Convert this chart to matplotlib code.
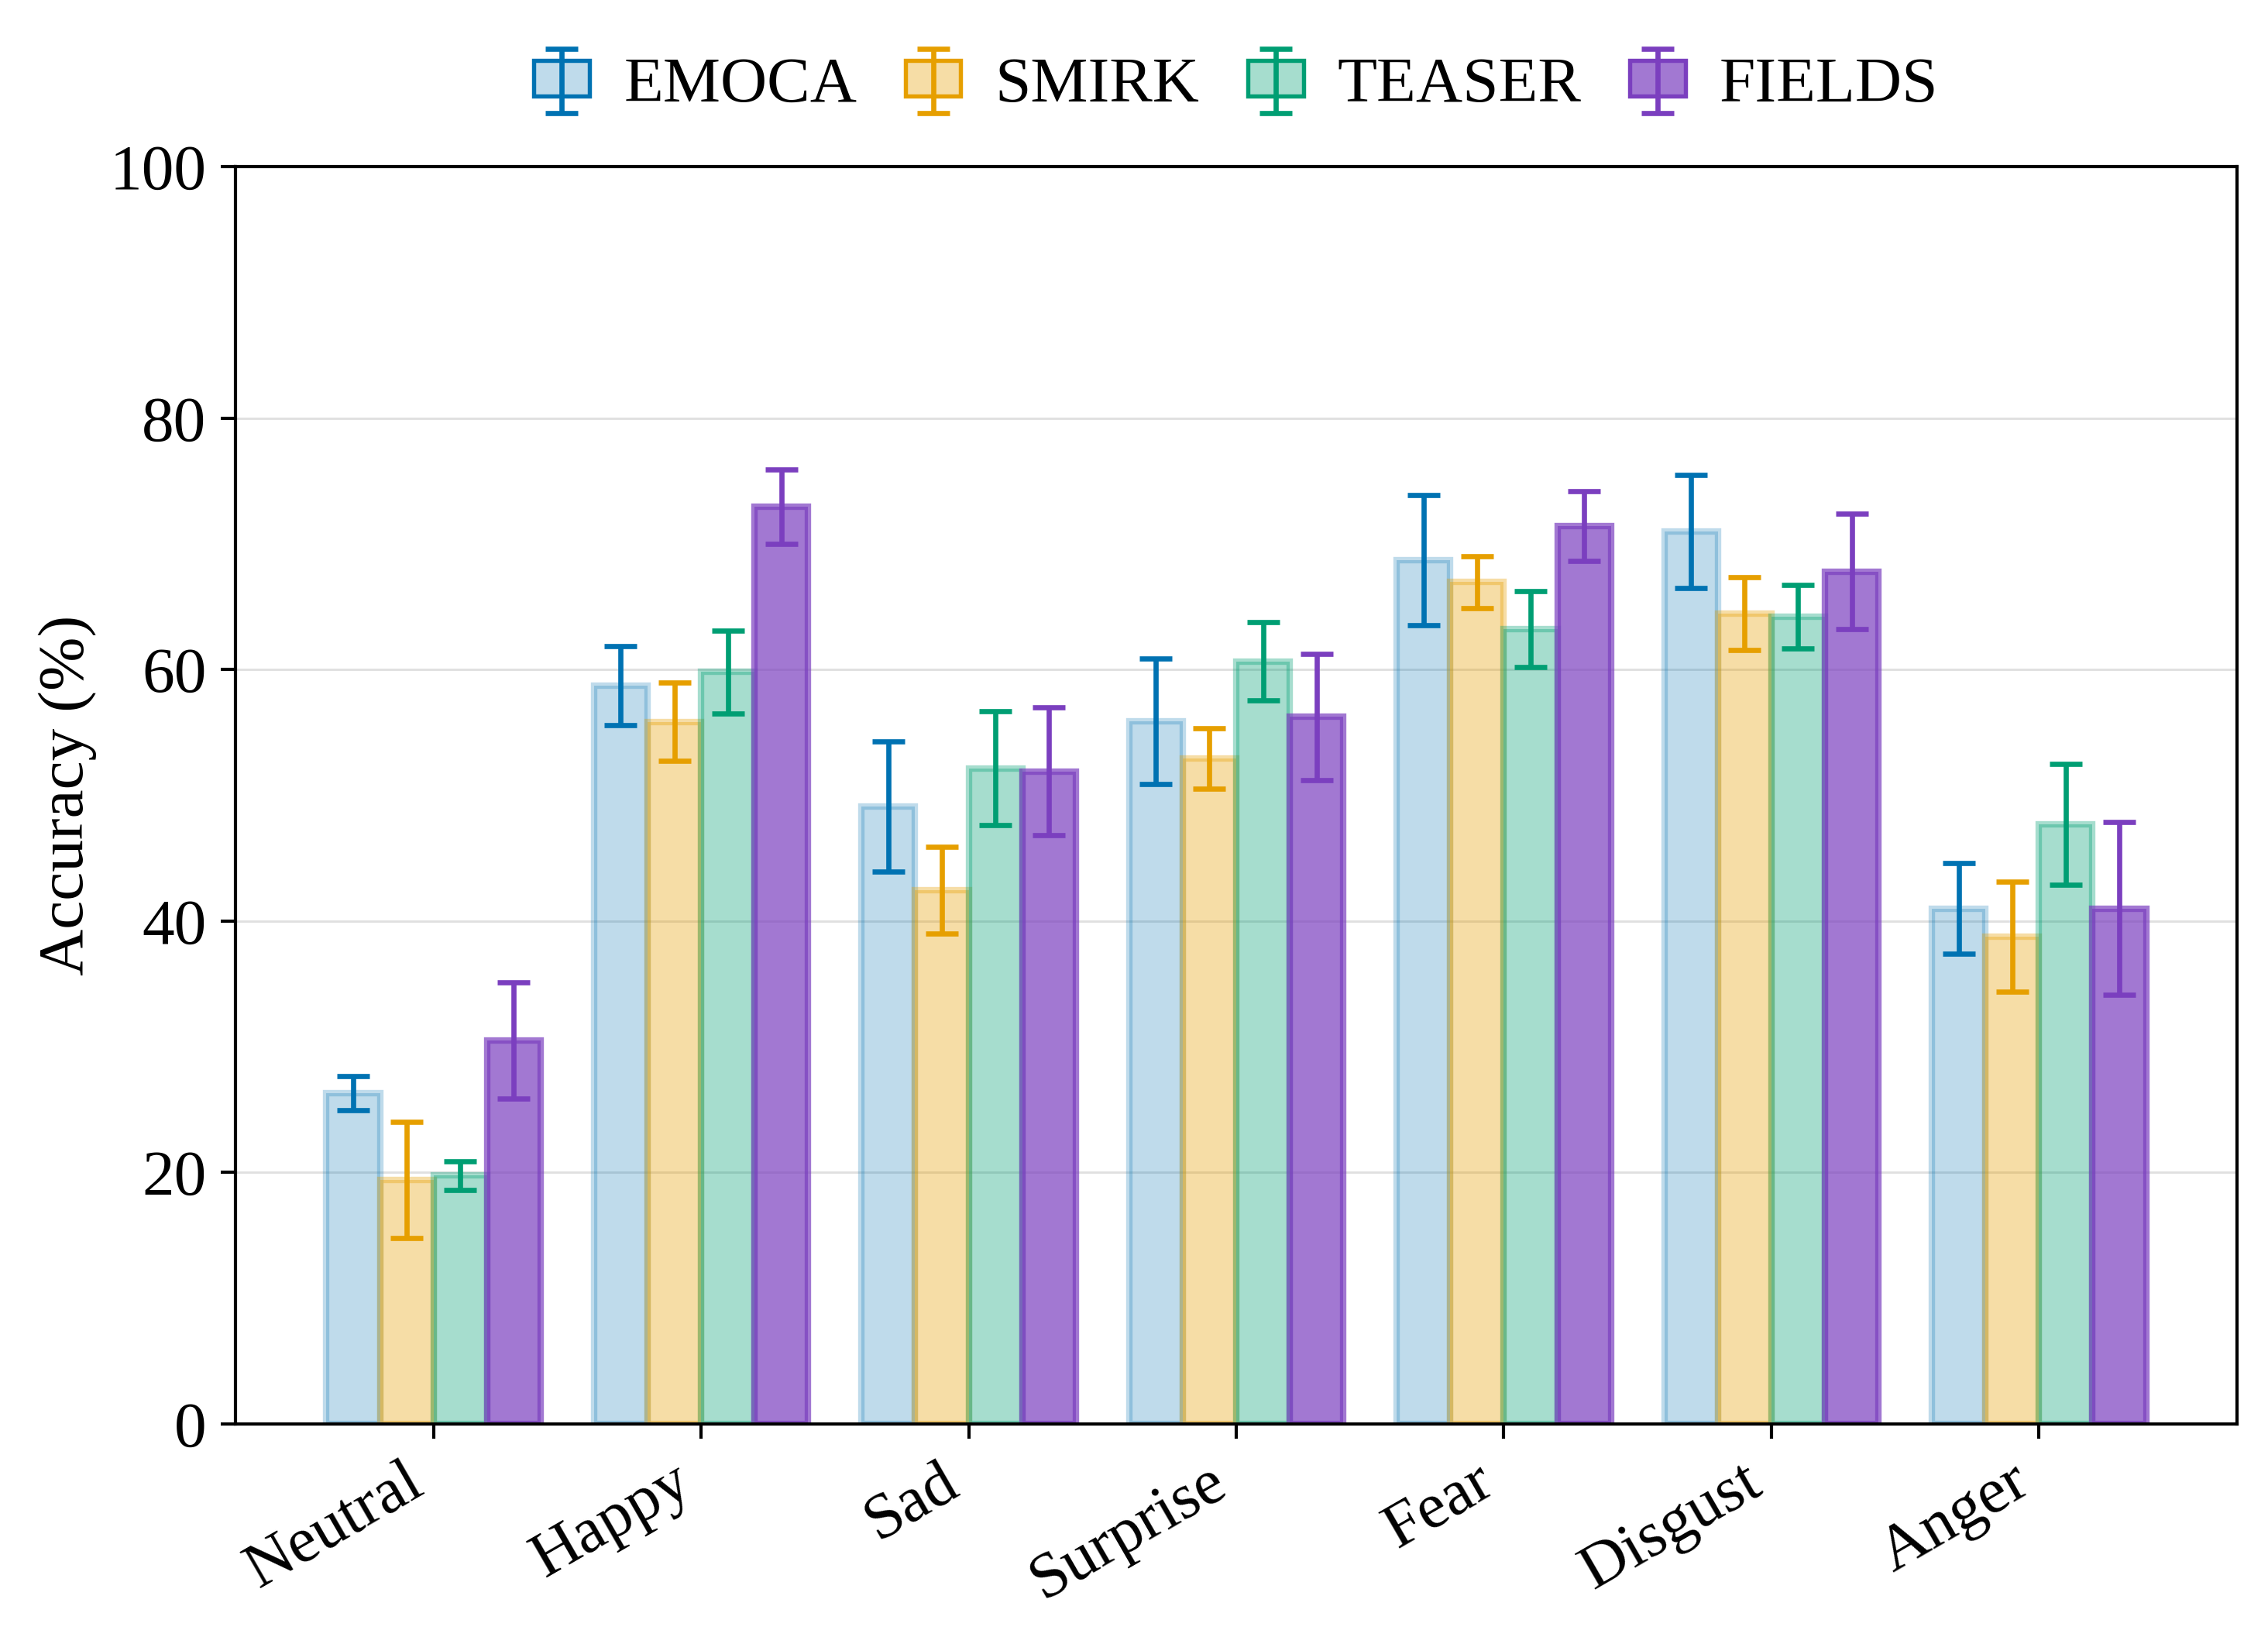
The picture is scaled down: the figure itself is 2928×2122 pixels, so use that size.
import numpy as np
import matplotlib
matplotlib.use("Agg")
import matplotlib.pyplot as plt
from matplotlib.patches import Rectangle
from matplotlib.legend_handler import HandlerTuple
from matplotlib.colors import to_rgba

plt.rcParams['font.family'] = ['Liberation Serif', 'DejaVu Serif']
plt.rcParams['mathtext.fontset'] = 'stix'

categories = ['Neutral', 'Happy', 'Sad', 'Surprise', 'Fear', 'Disgust', 'Anger']
methods = ['EMOCA', 'SMIRK', 'TEASER', 'FIELDS']

emoca = [26.3, 58.7, 49.1, 55.9, 68.7, 71.0, 41.0]
emoca_err = [1.35, 3.15, 5.17, 5.0, 5.18, 4.5, 3.6]
smirk = [19.4, 55.85, 42.45, 52.9, 66.95, 64.45, 38.75]
smirk_err = [4.6, 3.1, 3.45, 2.4, 2.07, 2.9, 4.4]
teaser = [19.75, 59.8, 52.15, 60.65, 63.2, 64.2, 47.7]
teaser_err = [1.15, 3.3, 4.53, 3.1, 3.02, 2.5, 4.8]
fields = [30.5, 72.95, 51.9, 56.23, 71.4, 67.8, 41.0]
fields_err = [4.6, 2.95, 5.1, 5.0, 2.77, 4.6, 6.87]

values = [emoca, smirk, teaser, fields]
errors = [emoca_err, smirk_err, teaser_err, fields_err]
colors = ['#0072B2', '#E69F00', '#009E73', '#7B3FBF']
alphas = [0.25, 0.35, 0.35, 0.7]

fig = plt.figure(figsize=(2928 / 300, 2122 / 300), dpi=300)
ax = fig.add_axes([304 / 2928, 1 - 1838 / 2122, (2888 - 304) / 2928, (1838 - 215) / 2122])

x = np.arange(len(categories))
width = 0.2
handles = []
for i, (name, vals, errs, col, a) in enumerate(zip(methods, values, errors, colors, alphas)):
    bars = ax.bar(x + (i - 1.5) * width, vals, width, yerr=errs, color=col,
                  edgecolor=col, linewidth=2, alpha=a,
                  error_kw=dict(ecolor=col, elinewidth=1.6, capsize=5, capthick=1.6, alpha=1))
    patch = Rectangle((0, 0), 1, 1, facecolor=to_rgba(col, a), edgecolor=col, linewidth=1.3)
    handles.append((patch, bars.errorbar))

ax.set_ylim(0, 100)
ax.set_yticks([0, 20, 40, 60, 80, 100])
ax.set_xticks(x)
ax.set_xticklabels(categories, rotation=30, ha='right')
ax.tick_params(axis='both', labelsize=20, length=4.5, width=1, pad=4.5)
ax.set_ylabel('Accuracy (%)', fontsize=20)
ax.yaxis.grid(True, color='#e0e0e0', linewidth=0.7)
ax.set_axisbelow(True)
for s in ax.spines.values():
    s.set_linewidth(1)

ax.legend(handles, methods, handler_map={tuple: HandlerTuple(ndivide=1)},
          loc='center', bbox_to_anchor=(0.5, (1838 - 111) / 1623), ncol=4,
          frameon=False, fontsize=20, handlelength=0.86, handleheight=0.47,
          handletextpad=0.53, columnspacing=0.75)

fig.savefig('out.png', dpi=300)
